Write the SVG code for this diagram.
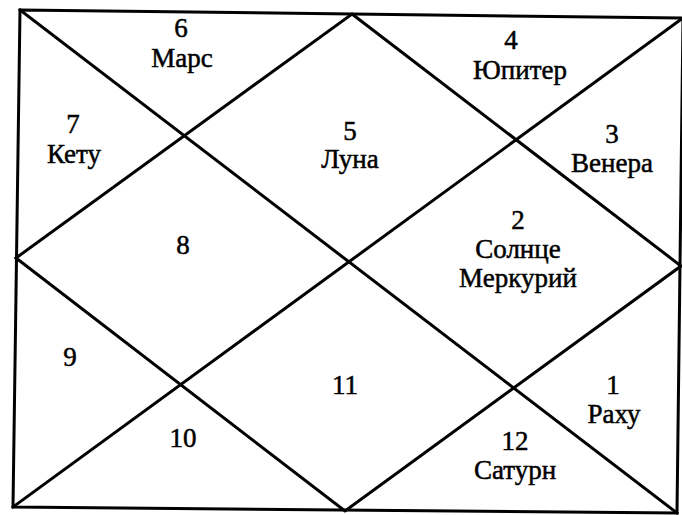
<svg xmlns="http://www.w3.org/2000/svg" width="682" height="515" viewBox="0 0 682 515">
<style>
.ln{fill:none;stroke:#000;stroke-width:3;stroke-linejoin:miter;stroke-linecap:square}
text{font-family:"Liberation Serif","Times New Roman",serif;font-size:27px;fill:#000;text-anchor:middle;stroke:#000;stroke-width:0.5}
</style>
<rect width="682" height="515" fill="#fff"/>
<g id="connectors">
<polygon class="ln" points="20,10 683,18 677,513 13,507"/>
<line class="ln" x1="20" y1="10" x2="677" y2="513"/>
<line class="ln" x1="683" y1="18" x2="13" y2="507"/>
<polygon class="ln" points="352,14 681,266 345,511 16,258"/>
</g>
<g id="house6"><text x="181" y="37">6</text><text x="182" y="67">Марс</text></g>
<g id="house4"><text x="511" y="49">4</text><text x="520" y="79">Юпитер</text></g>
<g id="house7"><text x="73" y="133">7</text><text x="74" y="163">Кету</text></g>
<g id="house5"><text x="350" y="140">5</text><text x="350" y="168">Луна</text></g>
<g id="house3"><text x="612" y="143">3</text><text x="612" y="172">Венера</text></g>
<g id="house8"><text x="183" y="254">8</text></g>
<g id="house2"><text x="518" y="229">2</text><text x="518" y="258">Солнце</text><text x="518" y="287">Меркурий</text></g>
<g id="house9"><text x="70" y="366">9</text></g>
<g id="house11"><text x="345" y="394">11</text></g>
<g id="house1"><text x="613" y="394">1</text><text x="614" y="423">Раху</text></g>
<g id="house10"><text x="183" y="447">10</text></g>
<g id="house12"><text x="515" y="450">12</text><text x="515" y="479">Сатурн</text></g>
</svg>
